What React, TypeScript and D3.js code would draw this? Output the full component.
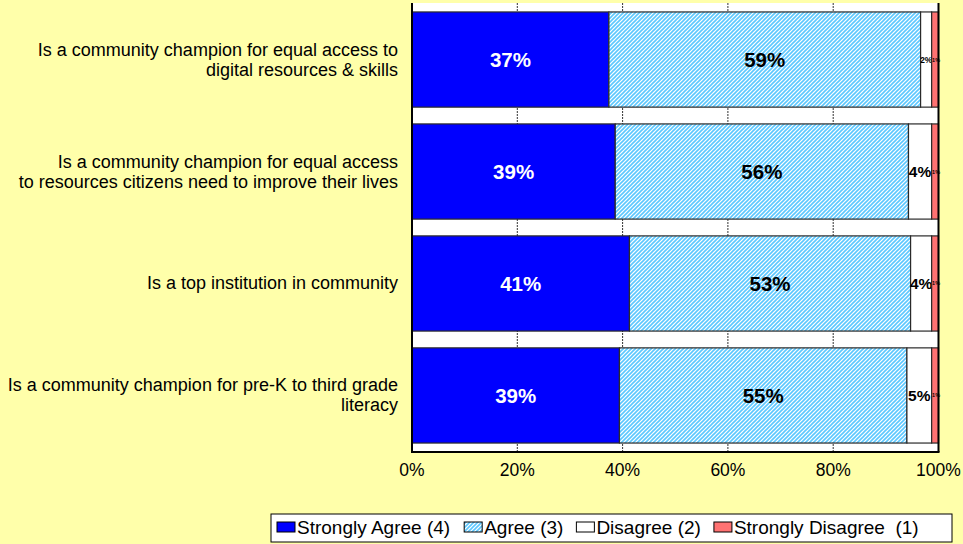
import { useMemo } from "react";
import * as d3 from "d3";

const WIDTH = 963;
const HEIGHT = 544;
const FONT = "Arial, 'Liberation Sans', Helvetica, sans-serif";

// category labels, already broken into lines as in the original
const categories = [
  ["Is a community champion for equal access to", "digital resources & skills"],
  ["Is a community champion for equal access", "to resources citizens need to improve their lives"],
  ["Is a top institution in community"],
  ["Is a community champion for pre-K to third grade", "literacy"],
];

const seriesNames = ["Strongly Agree (4)", "Agree (3)", "Disagree (2)", "Strongly Disagree  (1)"];

// percent of respondents
const stronglyAgree = [37.4, 38.6, 41.3, 39.4];
const agree = [59.2, 55.7, 53.4, 54.6];
const disagree = [2.1, 4.4, 4.0, 4.7];
const stronglyDisagree = [1.3, 1.3, 1.3, 1.3];

const xTicks = [0, 20, 40, 60, 80, 100];

const FILLS = ["#0000FF", "url(#agreeHatch)", "#FFFFFF", "#FF7272"];
const LABEL_COLORS = ["#FFFFFF", "#000000", "#000000", "#000000"];

const plot = { left: 412, right: 938.5, top: 3, bottom: 452 };

const measure = (() => {
  let ctx: CanvasRenderingContext2D | null = null;
  return (text: string, size: number) => {
    if (!ctx) ctx = document.createElement("canvas").getContext("2d");
    if (!ctx) return text.length * size * 0.5;
    ctx.font = `${size}px ${FONT}`;
    return ctx.measureText(text).width;
  };
})();

export default function App() {
  const keys = ["sa", "a", "d", "sd"];

  const rows = useMemo(
    () =>
      categories.map((c, i) => ({
        idx: String(i),
        sa: stronglyAgree[i],
        a: agree[i],
        d: disagree[i],
        sd: stronglyDisagree[i],
      })),
    []
  );

  const stacked = useMemo(() => d3.stack<any>().keys(keys)(rows), [rows]);

  const xScale = d3.scaleLinear().domain([0, 100]).range([plot.left, plot.right]);
  const yScale = d3
    .scaleBand()
    .domain(rows.map((r) => r.idx))
    .range([plot.top, plot.bottom])
    .paddingInner(0.15)
    .paddingOuter(0.08);

  const bw = yScale.bandwidth();

  // gridlines (dotted, drawn behind the bars)
  const grid = xTicks
    .filter((t) => t > 0 && t < 100)
    .map((t) => (
      <line
        key={t}
        x1={xScale(t)}
        x2={xScale(t)}
        y1={plot.top}
        y2={plot.bottom}
        stroke="#333"
        strokeWidth={1}
        strokeDasharray="2,1"
      />
    ));

  const bars = stacked.map((layer, li) =>
    layer.map((seg, i) => {
      const y = yScale(String(i)) ?? 0;
      const x0 = xScale(seg[0]);
      const x1 = xScale(seg[1]);
      const w = x1 - x0;
      const v = seg[1] - seg[0];
      // small segments get shrunken labels, like Excel does
      const fs = li < 2 ? 20.5 : li === 2 ? Math.min(15.5, w * 0.75) : w * 0.8;
      const isLast = li === 3;
      return (
        <g key={`${li}-${i}`}>
          <rect x={x0} y={y} width={w} height={bw} fill={FILLS[li]} stroke="#2a2a2a" strokeWidth={1.2} />
          <text
            x={isLast ? x1 + 1.5 : (x0 + x1) / 2}
            y={y + bw / 2}
            textAnchor={isLast ? "end" : "middle"}
            dominantBaseline="central"
            fontSize={fs}
            fontWeight="bold"
            fill={LABEL_COLORS[li]}
          >
            {Math.round(v)}%
          </text>
        </g>
      );
    })
  );

  const catLabels = categories.map((lines, i) => {
    const cy = (yScale(String(i)) ?? 0) + bw / 2;
    const lh = 20;
    const start = cy - ((lines.length - 1) * lh) / 2;
    return (
      <text key={i} x={398} textAnchor="end" fontSize={18} fill="#000">
        {lines.map((l, j) => (
          <tspan key={j} x={398} y={start + j * lh} dominantBaseline="central">
            {l}
          </tspan>
        ))}
      </text>
    );
  });

  const ticks = xTicks.map((t) => (
    <text key={t} x={xScale(t)} y={476} textAnchor="middle" fontSize={17.5} fill="#000">
      {t}%
    </text>
  ));

  // legend
  const legendSize = 19;
  let lx = 277;
  const legendItems = seriesNames.map((name, i) => {
    const sx = lx;
    const tx = sx + 20;
    const tw = measure(name, legendSize);
    lx = tx + tw + 13;
    return (
      <g key={name}>
        <rect x={sx} y={522} width={18} height={10} fill={FILLS[i]} stroke="#000" strokeWidth={1} />
        <text x={tx} y={533.5} fontSize={legendSize} fill="#000" style={{ whiteSpace: "pre" }}>
          {name}
        </text>
      </g>
    );
  });

  return (
    <svg
      width={WIDTH}
      height={HEIGHT}
      style={{ position: "absolute", left: 0, top: 0, fontFamily: FONT }}
    >
      <defs>
        <pattern id="agreeHatch" patternUnits="userSpaceOnUse" width={4} height={4}>
          <rect width={4} height={4} fill="#FFFFFF" />
          <path d="M-1,1 l2,-2 M0,4 l4,-4 M3,5 l2,-2" stroke="#5CC8FF" strokeWidth={1.6} />
        </pattern>
      </defs>
      <rect width={WIDTH} height={HEIGHT} fill="#FFFFAA" />
      <rect
        x={plot.left}
        y={plot.top}
        width={plot.right - plot.left}
        height={plot.bottom - plot.top}
        fill="#FFFFFF"
      />
      {grid}
      {bars}
      <line x1={plot.left} x2={plot.left} y1={plot.top} y2={plot.bottom} stroke="#000" strokeWidth={2} />
      <line x1={plot.right} x2={plot.right} y1={plot.top} y2={plot.bottom} stroke="#000" strokeWidth={2} />
      <line x1={plot.left - 1} x2={plot.right + 1} y1={plot.bottom} y2={plot.bottom} stroke="#000" strokeWidth={2} />
      {catLabels}
      {ticks}
      <rect x={271} y={514} width={681} height={28} fill="#FFFFFF" stroke="#000" strokeWidth={1} />
      {legendItems}
    </svg>
  );
}
